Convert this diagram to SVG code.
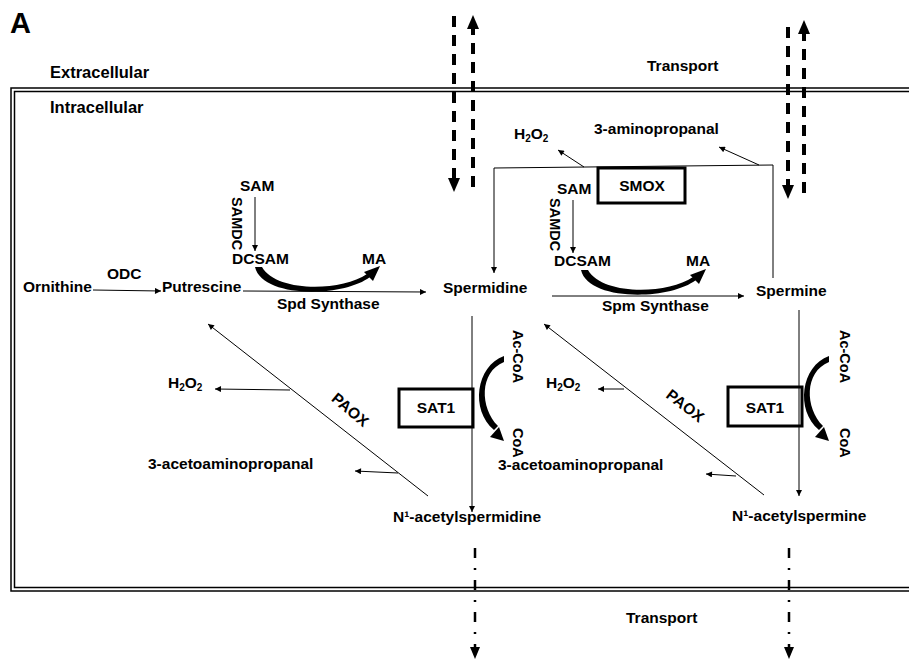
<svg xmlns="http://www.w3.org/2000/svg" width="909" height="660" viewBox="0 0 909 660">
<style>
text{font-family:"Liberation Sans",Arial,sans-serif;font-weight:bold;font-size:15.5px;fill:#000}
.big{font-size:16.5px}
.rot{font-size:14.5px}
.sub{font-size:10px}
.thin{stroke:#000;stroke-width:1;fill:none}
.dash{stroke:#000;stroke-width:4;stroke-dasharray:11 8;fill:none}
.dd{stroke:#000;stroke-width:2.5;stroke-dasharray:10 10 2 10;fill:none}
.box{fill:none;stroke:#000;stroke-width:3}
.border{fill:none;stroke:#000;stroke-width:1.5}
</style>
<defs>
<marker id="ah" viewBox="0 0 10 10" refX="10" refY="5" markerWidth="8" markerHeight="6" markerUnits="userSpaceOnUse" orient="auto">
<path d="M0,0 L10,5 L0,10 Z" fill="#000"/>
</marker>
<g id="curveH">
<path d="M255,267 C262,298 342,298 370,277 L367,274 C340,292 276,292 262,267 Z" fill="#000"/>
<polygon points="380,266 364,272 373,281" fill="#000"/>
</g>
<g id="curveV">
<path d="M504,356 C476,366 470,410 494,430 L498,426 C480,408 479,372 504,362 Z" fill="#000"/>
<polygon points="504,441 490,437 499,427" fill="#000"/>
</g>
</defs>
<rect width="909" height="660" fill="#fff"/>

<g id="membrane">
<rect class="border" x="11" y="88" width="1000" height="503"/>
<rect class="border" x="14.5" y="91.5" width="1000" height="496"/>
</g>

<g id="labels">
<text x="10" y="33" style="font-size:29px">A</text>
<text class="big" x="50" y="78">Extracellular</text>
<text class="big" x="50" y="113">Intracellular</text>
<text x="647" y="71">Transport</text>
<text x="626" y="623">Transport</text>
</g>

<g id="connectors">
<line class="dash" x1="454" y1="16" x2="454" y2="180"/>
<polygon points="454,192 448,178 460,178"/>
<line class="dash" x1="473" y1="187" x2="473" y2="28"/>
<polygon points="473,15 467,29 479,29"/>
<line class="dash" x1="788" y1="27" x2="788" y2="187"/>
<polygon points="788,199 782,185 794,185"/>
<line class="dash" x1="804" y1="193" x2="804" y2="33"/>
<polygon points="804,20 798,34 810,34"/>
<line class="dd" x1="475" y1="548" x2="475" y2="648"/>
<polygon points="475,659 470,647 480,647"/>
<line class="dd" x1="789" y1="548" x2="789" y2="648"/>
<polygon points="789,659 784,647 794,647"/>
<line class="thin" x1="93" y1="290" x2="161" y2="291" marker-end="url(#ah)"/>
<line class="thin" x1="243" y1="291" x2="426" y2="292" marker-end="url(#ah)"/>
<line class="thin" x1="552" y1="296" x2="744" y2="296" marker-end="url(#ah)"/>
<line class="thin" x1="255" y1="197" x2="255" y2="251" marker-end="url(#ah)"/>
<line class="thin" x1="573" y1="200" x2="573" y2="253" marker-end="url(#ah)"/>
<use href="#curveH"/>
<use href="#curveH" transform="translate(326,3)"/>
<polyline class="thin" points="773,278 773,165 494,168 494,273" marker-end="url(#ah)"/>
<line class="thin" x1="584" y1="167" x2="558" y2="150" marker-end="url(#ah)"/>
<line class="thin" x1="759" y1="165" x2="719" y2="147" marker-end="url(#ah)"/>
<line class="thin" x1="472" y1="316" x2="472" y2="512" marker-end="url(#ah)"/>
<line class="thin" x1="799" y1="310" x2="799" y2="496" marker-end="url(#ah)"/>
<use href="#curveV"/>
<use href="#curveV" transform="translate(325,0)"/>
<line class="thin" x1="428" y1="496" x2="208" y2="324" marker-end="url(#ah)"/>
<line class="thin" x1="290" y1="390" x2="215" y2="389" marker-end="url(#ah)"/>
<line class="thin" x1="398" y1="473" x2="355" y2="471" marker-end="url(#ah)"/>
<line class="thin" x1="764" y1="495" x2="544" y2="324" marker-end="url(#ah)"/>
<line class="thin" x1="624" y1="389" x2="598" y2="389" marker-end="url(#ah)"/>
<line class="thin" x1="736" y1="476" x2="706" y2="474" marker-end="url(#ah)"/>
</g>

<g id="ornithine"><text x="23" y="292">Ornithine</text></g>
<g id="odc"><text x="107" y="279">ODC</text></g>
<g id="putrescine"><text x="162" y="292">Putrescine</text></g>
<g id="spd-synthase"><text x="277" y="309">Spd Synthase</text></g>
<g id="sam1"><text x="240" y="191">SAM</text></g>
<g id="samdc1"><text class="rot" transform="translate(232,197) rotate(90)">SAMDC</text></g>
<g id="dcsam1"><text x="232" y="264">DCSAM</text></g>
<g id="ma1"><text x="362" y="264">MA</text></g>
<g id="spermidine"><text x="443" y="293">Spermidine</text></g>
<g id="spm-synthase"><text x="602" y="311">Spm Synthase</text></g>
<g id="sam2"><text x="557" y="194">SAM</text></g>
<g id="samdc2"><text class="rot" transform="translate(550,198) rotate(90)">SAMDC</text></g>
<g id="dcsam2"><text x="554" y="266">DCSAM</text></g>
<g id="ma2"><text x="686" y="266">MA</text></g>
<g id="spermine"><text x="756" y="296">Spermine</text></g>
<g id="smox"><rect class="box" x="598" y="168" width="87" height="35"/><text x="642" y="191" text-anchor="middle">SMOX</text></g>
<g id="h2o2-top"><text x="514" y="139">H<tspan class="sub" dy="3">2</tspan><tspan dy="-3">O</tspan><tspan class="sub" dy="3">2</tspan></text></g>
<g id="aminopropanal"><text x="594" y="134">3-aminopropanal</text></g>
<g id="sat1-left"><rect class="box" x="399" y="389" width="74" height="38"/><text x="436" y="413" text-anchor="middle">SAT1</text></g>
<g id="sat1-right"><rect class="box" x="728" y="387" width="74" height="39"/><text x="765" y="413" text-anchor="middle">SAT1</text></g>
<g id="accoa1"><text class="rot" transform="translate(513,330) rotate(90)">Ac-CoA</text></g>
<g id="coa1"><text class="rot" transform="translate(513,428) rotate(90)">CoA</text></g>
<g id="accoa2"><text class="rot" transform="translate(840,330) rotate(90)">Ac-CoA</text></g>
<g id="coa2"><text class="rot" transform="translate(840,428) rotate(90)">CoA</text></g>
<g id="paox1"><text transform="translate(350,410) rotate(40)" y="5" text-anchor="middle">PAOX</text></g>
<g id="paox2"><text transform="translate(685,406) rotate(38)" y="5" text-anchor="middle">PAOX</text></g>
<g id="h2o2-left"><text x="168" y="388">H<tspan class="sub" dy="3">2</tspan><tspan dy="-3">O</tspan><tspan class="sub" dy="3">2</tspan></text></g>
<g id="h2o2-right"><text x="546" y="388">H<tspan class="sub" dy="3">2</tspan><tspan dy="-3">O</tspan><tspan class="sub" dy="3">2</tspan></text></g>
<g id="acetoamino-left"><text x="148" y="469">3-acetoaminopropanal</text></g>
<g id="acetoamino-right"><text x="498" y="470">3-acetoaminopropanal</text></g>
<g id="n1-acetylspermidine"><text x="393" y="522">N¹-acetylspermidine</text></g>
<g id="n1-acetylspermine"><text x="732" y="521">N¹-acetylspermine</text></g>
</svg>
